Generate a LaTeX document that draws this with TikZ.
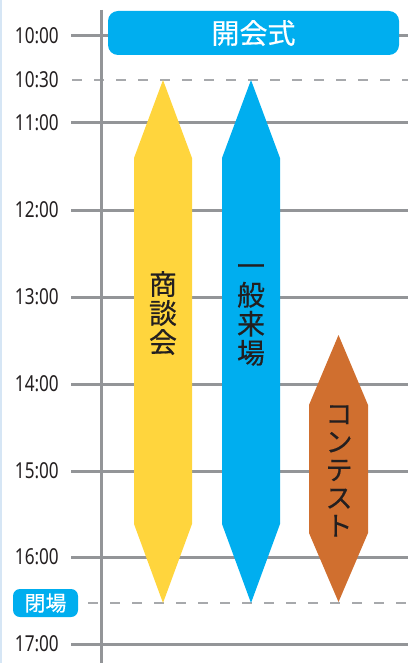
\documentclass[tikz,border=0pt]{standalone}
\usepackage{fontspec}
\usepackage{xcolor}
\usepackage{tikz}
\usetikzlibrary{positioning}
\newfontfamily\jpfont[FakeBold=0.5]{Noto Sans CJK JP}
\newfontfamily\timefont[FakeStretch=0.78]{Noto Sans}
\definecolor{gridgray}{HTML}{939598}
\definecolor{dashgray}{HTML}{A7A9AC}
\definecolor{skyblue}{HTML}{00AEEF}
\definecolor{sunyellow}{HTML}{FFD53D}
\definecolor{rustorange}{HTML}{D06F2F}
\definecolor{inkblack}{HTML}{231F20}
\definecolor{edgeblue}{HTML}{D6E6F5}

\begin{document}
\begin{tikzpicture}[x=1pt, y=-1pt,
    timelabel/.style={anchor=east, inner sep=0pt, text=inkblack, font=\timefont\fontsize{22}{22}\selectfont},
    gridline/.style={gridgray, line width=3pt},
    halfline/.style={dashgray, line width=1.5pt, dash pattern=on 10pt off 12pt},
    banner/.style={fill=skyblue, rounded corners=10pt, text=white, inner sep=0pt, font=\jpfont\fontsize{28}{28}\selectfont},
    band/.style={align=center, inner sep=0pt, text=inkblack, font=\jpfont\fontsize{28}{29}\selectfont}]

    \useasboundingbox (0,0) rectangle (408,663);
    \fill[edgeblue] (0,0) rectangle (2,663);

    % hour lines and labels
    \foreach \h/\y in {10/36, 11/123, 12/210, 13/297, 14/384, 15/471, 16/557, 17/644} {
        \draw[gridline] (71,\y) -- (408,\y);
        \node[timelabel] (t\h) at (59,\y) {\h:00};
    }
    \draw[halfline] (72,80) -- (408,80);
    \node[timelabel] (t1030) at (59,80) {10:30};
    \draw[halfline] (88,603) -- (408,603);
    \draw[gridline] (101.5,10) -- (101.5,663);

    % opening and closing
    \node[banner, minimum width=291pt, minimum height=44pt] (open) at (253.5,33) {開会式};
    \node[banner, rounded corners=7pt, minimum width=65pt, minimum height=28pt,
          font=\jpfont\fontsize{21}{21}\selectfont] (close) at (45.5,603) {閉場};

    % bands
    \foreach \c/\xl/\xr/\ya/\yb/\yc/\yd in {sunyellow/134/192/80/158/524/603,
        skyblue/222/280/80/158/524/603, rustorange/309/368/335/405/533/602}
        \fill[\c] ({(\xl+\xr)/2},\ya) -- (\xr,\yb) -- (\xr,\yc) -- ({(\xl+\xr)/2},\yd)
            -- (\xl,\yc) -- (\xl,\yb) -- cycle;

    \node[band] (trade) at (163,313) {商\\談\\会};
    \node[band] (visit) at (251,315) {一\\般\\来\\場};
    \node[band, font=\jpfont\fontsize{27}{28}\selectfont] (contest) at (339,471) {コ\\ン\\テ\\ス\\ト};
\end{tikzpicture}
\end{document}
